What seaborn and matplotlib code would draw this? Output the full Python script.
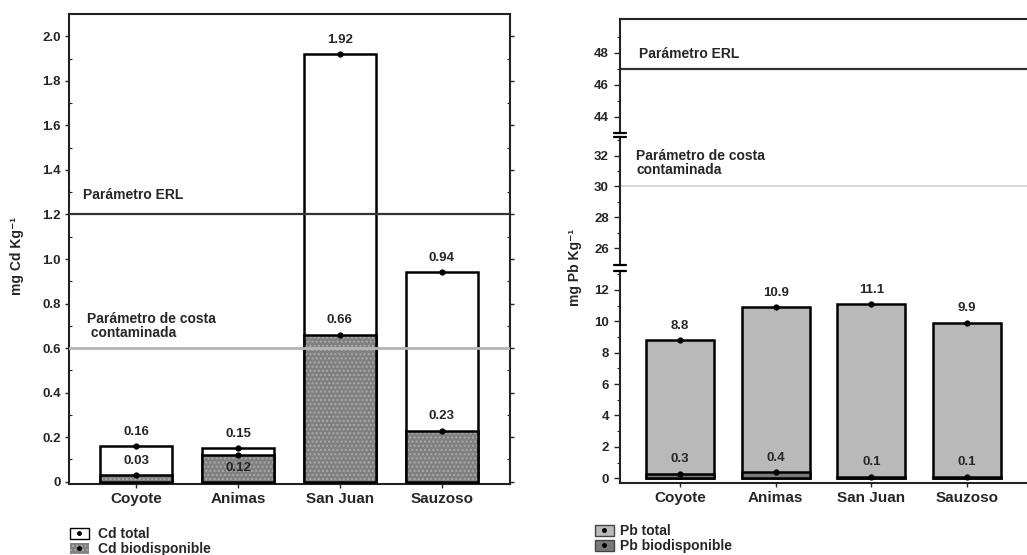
import matplotlib
matplotlib.use("Agg")
import matplotlib.pyplot as plt
import seaborn as sns
from matplotlib.patches import Patch
from matplotlib.lines import Line2D
from matplotlib.ticker import FixedLocator

# ---------------- data ----------------
sites = ["Coyote", "Animas", "San Juan", "Sauzoso"]
cd_total = [0.16, 0.15, 1.92, 0.94]
cd_bio = [0.03, 0.12, 0.66, 0.23]
cd_total_labels = ["0.16", "0.15", "1.92", "0.94"]
cd_bio_labels = ["0.03", "0.12", "0.66", "0.23"]
pb_total = [8.8, 10.9, 11.1, 9.9]
pb_bio = [0.3, 0.4, 0.1, 0.1]
pb_total_labels = ["8.8", "10.9", "11.1", "9.9"]
pb_bio_labels = ["0.3", "0.4", "0.1", "0.1"]
cd_erl = 1.2
cd_coast = 0.6
pb_erl = 47
pb_coast = 30
cd_yticks = [0, 0.2, 0.4, 0.6, 0.8, 1.0, 1.2, 1.4, 1.6, 1.8, 2.0]
cd_yticklabels = ["0", "0.2", "0.4", "0.6", "0.8", "1.0", "1.2", "1.4", "1.6", "1.8", "2.0"]
pb_ticks_top = [44, 46, 48]
pb_ticks_mid = [26, 28, 30, 32]
pb_ticks_bot = [0, 2, 4, 6, 8, 10, 12]

# ---------------- style ----------------
sns.set_style("ticks")
plt.rcParams["font.family"] = ["Liberation Sans", "DejaVu Sans"]
plt.rcParams["font.weight"] = "bold"
plt.rcParams["hatch.linewidth"] = 1.0

fig = plt.figure(figsize=(10.27, 5.55), dpi=100)
fig.patch.set_facecolor("white")

BAR_W = 0.71
EDGE_LW = 1.8
TICK_FS = 9.5
CAT_FS = 11
VAL_FS = 9.5
NOTE_FS = 10
LEG_FS = 10
YLAB_FS = 10
BIO_FACE = "#808080"
BIO_DOTS = "#aaaaaa"

# ================= LEFT PANEL (Cd) =================
ax = fig.add_axes([69 / 1027, 1 - 484 / 555, 441 / 1027, 470 / 555])
sns.barplot(x=sites, y=cd_total, color="white", edgecolor="black",
            linewidth=EDGE_LW, width=BAR_W, saturation=1, ax=ax, zorder=2)
sns.barplot(x=sites, y=cd_bio, color=BIO_FACE, edgecolor=BIO_DOTS,
            linewidth=0, hatch="....", width=BAR_W, saturation=1, ax=ax, zorder=2)
sns.barplot(x=sites, y=cd_bio, fill=False, color="black",
            linewidth=EDGE_LW, width=BAR_W, ax=ax, zorder=3)
sns.stripplot(x=sites, y=cd_total, color="black", size=4.5, jitter=False, ax=ax, zorder=6)
sns.stripplot(x=sites, y=cd_bio, color="black", size=4.5, jitter=False, ax=ax, zorder=6)

ax.axhline(cd_erl, color="#333333", lw=1.6, zorder=4)
ax.axhline(cd_coast, color="#b4b4b4", lw=2.0, zorder=4)

for i, (v, lab) in enumerate(zip(cd_total, cd_total_labels)):
    ax.annotate(lab, xy=(i, v), xytext=(0, 6), textcoords="offset points",
                ha="center", va="bottom", fontsize=VAL_FS, zorder=7)
bio_below = [False, True, False, False]
for i, (v, lab, below) in enumerate(zip(cd_bio, cd_bio_labels, bio_below)):
    off = (0, -5) if below else (0, 6)
    ax.annotate(lab, xy=(i, v), xytext=off, textcoords="offset points",
                ha="center", va="top" if below else "bottom",
                fontsize=VAL_FS, zorder=7)

ytr = ax.get_yaxis_transform()
ax.text(0.032, 1.255, "Parámetro ERL", transform=ytr, fontsize=NOTE_FS,
        ha="left", va="bottom")
ax.text(0.04, 0.635, "Parámetro de costa\n contaminada", transform=ytr,
        fontsize=NOTE_FS, ha="left", va="bottom", linespacing=1.0)

ax.set_xlim(-0.66, 3.67)
ax.set_ylim(-0.01, 2.1)
ax.set_yticks(cd_yticks)
ax.set_yticklabels(cd_yticklabels, fontsize=TICK_FS)
ax.yaxis.set_minor_locator(FixedLocator([0.1, 0.3, 0.5, 0.7, 0.9, 1.1, 1.3, 1.5, 1.7, 1.9]))
ax.tick_params(axis="y", which="major", direction="out", length=3, width=1, right=True, pad=3)
ax.tick_params(axis="y", which="minor", direction="in", length=2.5, width=0.8, right=True)
ax.tick_params(axis="x", direction="out", length=3, width=1, pad=3, labelsize=CAT_FS)
for t in ax.get_xticklabels():
    t.set_fontweight("bold")
for s in ax.spines.values():
    s.set_linewidth(1.5)
    s.set_color("#222222")
ax.set_xlabel("")
ax.set_ylabel("")
fig.text(17 / 1027, 1 - 256 / 555, "mg Cd Kg⁻¹", rotation=90, ha="center",
         va="center", fontsize=YLAB_FS)

cd_handles = [
    (Patch(facecolor="white", edgecolor="black", lw=1),
     Line2D([], [], marker="o", color="black", ms=2.5, ls="")),
    (Patch(facecolor=BIO_FACE, edgecolor=BIO_DOTS, hatch="....", lw=0),
     Line2D([], [], marker="o", color="black", ms=2.5, ls="")),
]
fig.legend(cd_handles, ["Cd total", "Cd biodisponible"], loc="upper left",
           bbox_to_anchor=(70 / 1027, 1 - 527 / 555), frameon=False,
           handlelength=1.35, handleheight=0.85, labelspacing=0.08,
           handletextpad=0.65, borderpad=0, borderaxespad=0, fontsize=LEG_FS)

# ================= RIGHT PANEL (Pb, broken axis) =================
RX0 = 620 / 1027
RW = 1 - RX0
segs = [
    (19, 133, (43, 50.1), pb_ticks_top),
    (137, 265, (24.9, 33.2), pb_ticks_mid),
    (271, 483, (-0.3, 13.2), pb_ticks_bot),
]
axes_r = []
for top, bot, ylim, ticks in segs:
    a = fig.add_axes([RX0, 1 - bot / 555, RW, (bot - top) / 555])
    a.set_ylim(*ylim)
    a.set_xlim(-0.625, 3.625)
    a.set_yticks(ticks)
    a.set_yticklabels([str(t) for t in ticks], fontsize=TICK_FS)
    a.yaxis.set_minor_locator(FixedLocator([t + 1 for t in ticks]))
    a.tick_params(axis="y", which="major", direction="out", length=4, width=1, pad=4)
    a.tick_params(axis="y", which="minor", direction="out", length=2, width=0.8)
    a.spines["right"].set_visible(False)
    for s in a.spines.values():
        s.set_linewidth(1.5)
        s.set_color("#222222")
    a.patch.set_alpha(0)
    axes_r.append(a)

at, am, ab = axes_r
at.spines["bottom"].set_visible(False)
at.set_xticks([])
at.axhline(pb_erl, color="#333333", lw=1.6)
at.text(0.047, pb_erl + 0.5, "Parámetro ERL", transform=at.get_yaxis_transform(),
        fontsize=NOTE_FS, ha="left", va="bottom")
am.spines["top"].set_visible(False)
am.spines["bottom"].set_visible(False)
am.set_xticks([])
am.axhline(pb_coast, color="#d2d2d2", lw=1.3)
am.text(0.04, pb_coast + 0.6, "Parámetro de costa\ncontaminada",
        transform=am.get_yaxis_transform(), fontsize=NOTE_FS, ha="left",
        va="bottom", linespacing=1.0)
ab.spines["top"].set_visible(False)
sns.barplot(x=sites, y=pb_total, color="#b9b9b9", edgecolor="black",
            linewidth=EDGE_LW, width=BAR_W, saturation=1, ax=ab, zorder=2)
sns.barplot(x=sites, y=pb_bio, color="#7a7a7a", edgecolor="black",
            linewidth=EDGE_LW, width=BAR_W, saturation=1, ax=ab, zorder=3)
sns.stripplot(x=sites, y=pb_total, color="black", size=4.5, jitter=False, ax=ab, zorder=6)
sns.stripplot(x=sites, y=pb_bio, color="black", size=4.5, jitter=False, ax=ab, zorder=6)
for i, (v, lab) in enumerate(zip(pb_total, pb_total_labels)):
    ab.annotate(lab, xy=(i, v), xytext=(0, 6), textcoords="offset points",
                ha="center", va="bottom", fontsize=VAL_FS)
for i, (v, lab) in enumerate(zip(pb_bio, pb_bio_labels)):
    ab.annotate(lab, xy=(i, v), xytext=(0, 6), textcoords="offset points",
                ha="center", va="bottom", fontsize=VAL_FS)
ab.set_xlim(-0.625, 3.625)
ab.set_ylim(-0.3, 13.2)
ab.tick_params(axis="x", direction="out", length=3, width=1, pad=3, labelsize=CAT_FS)
for t in ab.get_xticklabels():
    t.set_fontweight("bold")
ab.set_xlabel("")
ab.set_ylabel("")

for a, ys in ((at, [0]), (am, [0, 1]), (ab, [1])):
    for y in ys:
        a.plot([-0.014, 0.014], [y, y], transform=a.transAxes, color="black",
               lw=1.6, clip_on=False, zorder=10)

fig.text(575 / 1027, 1 - 267 / 555, "mg Pb Kg⁻¹", rotation=90, ha="center",
         va="center", fontsize=YLAB_FS)

pb_handles = [
    (Patch(facecolor="#b9b9b9", edgecolor="#444444", lw=1),
     Line2D([], [], marker="o", color="black", ms=2.5, ls="")),
    (Patch(facecolor="#7a7a7a", edgecolor="#444444", lw=1),
     Line2D([], [], marker="o", color="black", ms=2.5, ls="")),
]
fig.legend(pb_handles, ["Pb total", "Pb biodisponible"], loc="upper left",
           bbox_to_anchor=(595 / 1027, 1 - 524 / 555), frameon=False,
           handlelength=1.35, handleheight=0.85, labelspacing=0.08,
           handletextpad=0.45, borderpad=0, borderaxespad=0, fontsize=LEG_FS)

fig.savefig("out.png", dpi=100, facecolor="white")
